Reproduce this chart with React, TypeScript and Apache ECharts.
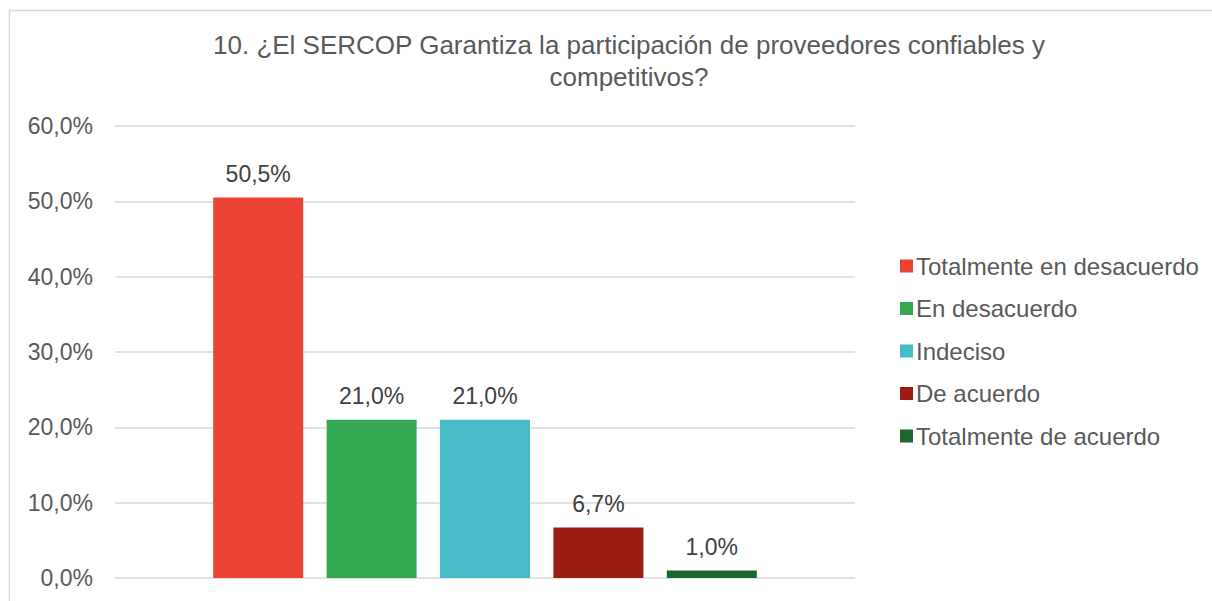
import React, { useEffect, useRef } from "react";
import * as echarts from "echarts";

const titleLines = [
  "10. ¿El SERCOP Garantiza la participación de proveedores confiables y",
  "competitivos?",
];
const seriesNames = [
  "Totalmente en desacuerdo",
  "En desacuerdo",
  "Indeciso",
  "De acuerdo",
  "Totalmente de acuerdo",
];
const seriesValues = [50.5, 21.0, 21.0, 6.7, 1.0];
const seriesColors = ["#EA4335", "#34A853", "#46BDC6", "#9C1B12", "#1E6531"];
const categories = [""];

const fmt = (v: number) => v.toFixed(1).replace(".", ",") + "%";
const FONT = "'Liberation Sans', Arial, sans-serif";

export default function App() {
  const ref = useRef<HTMLDivElement>(null);
  useEffect(() => {
    document.body.style.margin = "0";
    const chart = echarts.init(ref.current!, null, { renderer: "svg" });
    chart.setOption({
      animation: false,
      backgroundColor: "#ffffff",
      graphic: [
        {
          type: "rect",
          shape: { x: 9.5, y: 10.5, width: 1240, height: 640 },
          style: { fill: "none", stroke: "#D9D9D9", lineWidth: 1.5 },
          silent: true,
          z: -1,
        },
        ...titleLines.map((t, i) => ({
          type: "text",
          x: 629,
          y: 45 + i * 32,
          style: {
            text: t,
            fill: "#595959",
            font: `26px ${FONT}`,
            textAlign: "center",
            textVerticalAlign: "middle",
          },
        })),
      ],
      legend: {
        orient: "vertical",
        left: 895,
        top: 249,
        itemWidth: 13,
        itemHeight: 13,
        itemGap: 18.5,
        icon: "rect",
        data: seriesNames,
        textStyle: { color: "#595959", fontSize: 24, fontFamily: FONT, padding: [0, 0, 0, -2] },
      },
      grid: { left: 115, right: 357, top: 126, bottom: 23, containLabel: false },
      xAxis: {
        type: "category",
        data: categories,
        axisLine: { show: false },
        axisTick: { show: false },
        axisLabel: { show: false },
      },
      yAxis: {
        type: "value",
        min: 0,
        max: 60,
        interval: 10,
        axisLine: { show: false },
        axisTick: { show: false },
        splitLine: { lineStyle: { color: "#D9D9D9", width: 1.5 } },
        axisLabel: {
          formatter: (v: number) => fmt(v),
          color: "#595959",
          fontSize: 23,
          fontFamily: FONT,
          margin: 22,
        },
      },
      series: seriesNames.map((name, i) => ({
        name,
        type: "bar",
        data: [seriesValues[i]],
        barWidth: 90,
        barGap: "26%",
        itemStyle: { color: seriesColors[i] },
        label: {
          show: true,
          position: "top",
          distance: 12,
          formatter: (p: any) => fmt(p.value),
          color: "#404040",
          fontSize: 23,
          fontFamily: FONT,
        },
      })),
    });
    return () => chart.dispose();
  }, []);
  return <div ref={ref} style={{ width: 1212, height: 601 }} />;
}
